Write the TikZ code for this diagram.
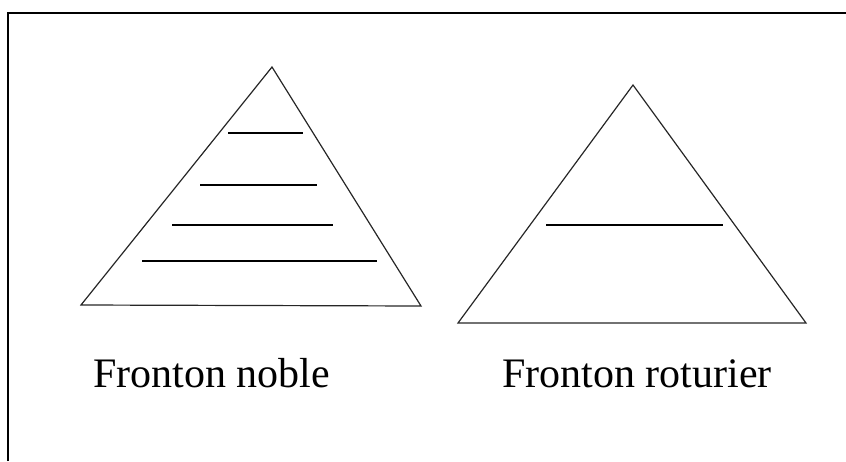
\documentclass[tikz,border=0pt]{standalone}
\usepackage{fontspec}
\setmainfont{Liberation Serif}
\begin{document}
\begin{tikzpicture}[x=1pt,y=-1pt,
  edge/.style={draw=black!85,line width=1.2pt,line join=miter},
  rule/.style={draw=black,line width=1.4pt},
  frame/.style={draw=black,line width=2pt},
  lbl/.style={anchor=base west,inner sep=0pt,font=\fontsize{42}{48}\selectfont}]
\useasboundingbox (0,0) rectangle (846,461);
% frame (top and left only)
\coordinate (fl) at (8,461);
\coordinate (fc) at (8,13);
\coordinate (fr) at (846,13);
\draw[frame] (fl) -- (fc) -- (fr);
% left pediment
\coordinate (La) at (272,67);
\coordinate (Lb) at (81,305);
\coordinate (Lc) at (421,306);
\draw[edge] (La) -- (Lb) -- (Lc) -- cycle;
\coordinate (l1a) at (228,133); \coordinate (l1b) at (303,133);
\coordinate (l2a) at (200,185); \coordinate (l2b) at (317,185);
\coordinate (l3a) at (172,225); \coordinate (l3b) at (333,225);
\coordinate (l4a) at (142,261); \coordinate (l4b) at (377,261);
\draw[rule] (l1a) -- (l1b);
\draw[rule] (l2a) -- (l2b);
\draw[rule] (l3a) -- (l3b);
\draw[rule] (l4a) -- (l4b);
% right pediment
\coordinate (Ra) at (633,85);
\coordinate (Rb) at (458,323);
\coordinate (Rc) at (806,323);
\draw[edge] (Ra) -- (Rb) -- (Rc) -- cycle;
\coordinate (r1a) at (546,225); \coordinate (r1b) at (723,225);
\draw[rule] (r1a) -- (r1b);
% labels
\node[lbl] (tn) at (93,387) {Fronton noble};
\node[lbl] (tr) at (502,387) {Fronton roturier};
\end{tikzpicture}
\end{document}
